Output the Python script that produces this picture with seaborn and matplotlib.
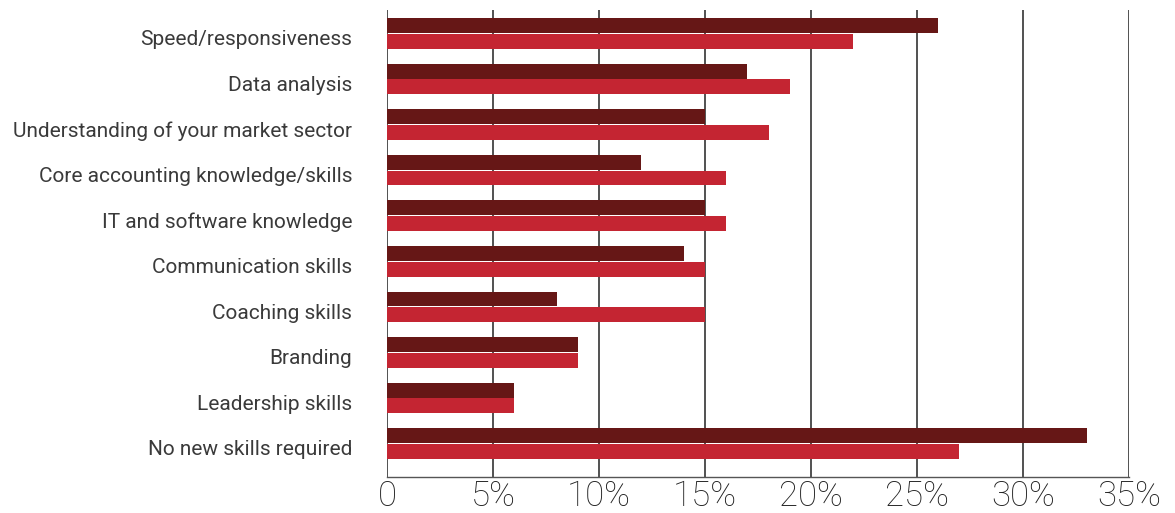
import matplotlib
matplotlib.use("Agg")
import matplotlib.pyplot as plt
import matplotlib.transforms as mtransforms
import pandas as pd
import seaborn as sns

skills = [
    "Speed/responsiveness",
    "Data analysis",
    "Understanding of your market sector",
    "Core accounting knowledge/skills",
    "IT and software knowledge",
    "Communication skills",
    "Coaching skills",
    "Branding",
    "Leadership skills",
    "No new skills required",
]
series_a = [26, 17, 15, 12, 15, 14, 8, 9, 6, 33]
series_b = [22, 19, 18, 16, 16, 15, 15, 9, 6, 27]
series_names = ["A", "B"]
colors = ["#661716", "#C42532"]
x_ticks = [0, 5, 10, 15, 20, 25, 30, 35]
x_tick_labels = ["0", "5%", "10%", "15%", "20%", "25%", "30%", "35%"]

df = pd.DataFrame({
    "skill": skills * 2,
    "value": series_a + series_b,
    "series": [series_names[0]] * len(skills) + [series_names[1]] * len(skills),
})

sns.set_style("white")
plt.rcParams["font.family"] = ["Roboto", "DejaVu Sans"]

fig = plt.figure(figsize=(11.75, 5.13), dpi=100)
ax = fig.add_axes([0.3294, 0.0702, 0.6315, 0.9103])

sns.barplot(
    data=df, y="skill", x="value", hue="series", order=skills,
    hue_order=series_names, palette=colors, orient="h",
    width=0.69, saturation=1, linewidth=0, gap=0.05, ax=ax, legend=False,
)

ax.set_xlim(0, 35)
ax.set_ylim(9.735, -0.516)
ax.set_xticks(x_ticks)
ax.set_xticklabels(x_tick_labels, fontsize=25, fontweight="light", color="#222222")
ax.set_yticklabels(skills, fontsize=15, color="#3a3a3a")
ax.set_xlabel("")
ax.set_ylabel("")
ax.tick_params(axis="both", length=0)
ax.tick_params(axis="y", pad=25)
ax.tick_params(axis="x", pad=2)

# nudge category labels slightly below the group centre
shift = mtransforms.ScaledTranslation(0, -3 / 72, fig.dpi_scale_trans)
for lbl in ax.get_yticklabels():
    lbl.set_transform(lbl.get_transform() + shift)

for x in x_ticks:
    ax.axvline(x, color="#222222", linewidth=1.1, zorder=0)
for side in ["top", "right", "left"]:
    ax.spines[side].set_visible(False)
ax.spines["bottom"].set_color("#555555")
ax.spines["bottom"].set_linewidth(1.0)
ax.grid(False)

fig.savefig("out.png", dpi=100, facecolor="white")
